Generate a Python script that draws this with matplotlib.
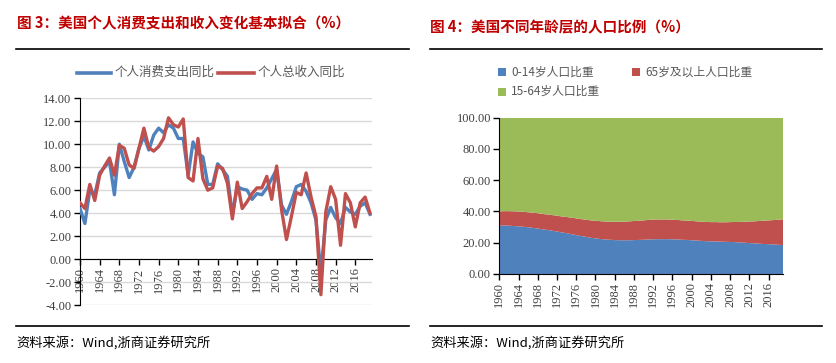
import matplotlib
matplotlib.use("Agg")
import matplotlib.pyplot as plt
from matplotlib.lines import Line2D
from matplotlib.patches import Rectangle

plt.rcParams['font.family'] = ['Noto Sans CJK SC', 'DejaVu Sans']

W, H = 837, 363

# ── 数据 ──────────────────────────────────────────────
years = list(range(1960, 2020))

# 个人消费支出同比 (%)
consumption = [4.4, 3.1, 6.0, 5.6, 7.5, 8.0, 8.5, 5.6, 10.0, 8.5,
               7.1, 8.0, 9.65, 10.7, 9.5, 10.8, 11.4, 11.0, 11.7, 11.4,
               10.5, 10.5, 7.3, 10.2, 9.2, 8.9, 6.5, 6.5, 8.3, 7.8,
               7.2, 3.9, 6.3, 6.1, 6.0, 5.2, 5.7, 5.6, 6.2, 7.0,
               7.8, 4.7, 3.9, 5.0, 6.3, 6.5, 5.9, 4.9, 3.4, -1.2,
               3.4, 4.5, 3.6, 3.1, 4.5, 4.1, 3.9, 4.6, 4.9, 3.9]

# 个人总收入同比 (%)
income = [4.9, 4.4, 6.5, 5.1, 7.3, 8.1, 8.8, 7.3, 9.9, 9.65,
          8.2, 7.9, 9.65, 11.4, 9.7, 9.4, 9.8, 10.5, 12.3, 11.7,
          11.5, 12.2, 7.1, 6.8, 10.5, 7.0, 6.0, 6.2, 8.1, 7.9,
          6.6, 3.5, 6.7, 4.4, 5.0, 5.7, 6.2, 6.2, 7.2, 5.2,
          8.1, 4.3, 1.7, 3.7, 5.8, 5.6, 7.5, 5.4, 3.7, -3.1,
          4.1, 6.3, 5.2, 1.2, 5.7, 4.9, 2.8, 4.9, 5.4, 4.0]

# 人口比重 (%)
age_0_14 = [31.0, 31.0, 30.9, 30.7, 30.5, 30.2, 29.9, 29.5, 29.1, 28.6,
            28.2, 27.7, 27.2, 26.6, 26.1, 25.5, 24.9, 24.3, 23.8, 23.2,
            22.8, 22.4, 22.1, 21.9, 21.7, 21.6, 21.6, 21.6, 21.7, 21.8,
            21.9, 22.1, 22.2, 22.3, 22.3, 22.3, 22.2, 22.1, 21.9, 21.8,
            21.6, 21.4, 21.2, 21.0, 20.9, 20.8, 20.7, 20.6, 20.5, 20.4,
            20.2, 20.0, 19.8, 19.6, 19.4, 19.2, 19.1, 18.9, 18.7, 18.5]

age_65_plus = [9.1, 9.2, 9.3, 9.4, 9.5, 9.6, 9.6, 9.7, 9.8, 9.8,
               9.9, 10.0, 10.1, 10.2, 10.4, 10.5, 10.7, 10.8, 11.0, 11.1,
               11.3, 11.4, 11.5, 11.6, 11.7, 11.8, 11.9, 12.1, 12.2, 12.3,
               12.4, 12.5, 12.6, 12.6, 12.6, 12.6, 12.5, 12.5, 12.4, 12.4,
               12.4, 12.3, 12.3, 12.3, 12.3, 12.4, 12.4, 12.5, 12.7, 12.9,
               13.1, 13.4, 13.8, 14.1, 14.5, 14.9, 15.2, 15.6, 16.0, 16.5]

age_15_64 = [59.9, 59.8, 59.8, 59.9, 60.0, 60.2, 60.5, 60.8, 61.1, 61.6,
             61.9, 62.3, 62.7, 63.2, 63.5, 64.0, 64.4, 64.9, 65.2, 65.7,
             65.9, 66.2, 66.4, 66.5, 66.6, 66.6, 66.5, 66.3, 66.1, 65.9,
             65.7, 65.4, 65.2, 65.1, 65.1, 65.1, 65.3, 65.4, 65.7, 65.8,
             66.0, 66.3, 66.5, 66.7, 66.8, 66.8, 66.9, 66.9, 66.8, 66.7,
             66.7, 66.6, 66.4, 66.3, 66.1, 65.9, 65.7, 65.5, 65.3, 65.0]

year_ticks = list(range(1960, 2020, 4))

BLUE = '#4F81BD'
RED = '#C0504D'
GREEN = '#9BBB59'
TITLE_RED = '#C00000'
TXT = '#404040'
SERIF = 'Liberation Serif'


def px(x, y):
    return x / W, 1 - y / H


def fig_rect(l, t, r, b):
    return [l / W, 1 - b / H, (r - l) / W, (b - t) / H]


def hline(fig, x0, x1, y, lw=1.2, color='black'):
    fig.add_artist(Line2D([x0 / W, x1 / W], [1 - y / H, 1 - y / H],
                          transform=fig.transFigure, color=color, lw=lw))


fig = plt.figure(figsize=(W / 100, H / 100), dpi=100)
fig.patch.set_facecolor('white')

# ── 标题 / 分割线 / 来源 ──────────────────────────────
fig.text(*px(17, 23), '图 3：美国个人消费支出和收入变化基本拟合（%）',
         color=TITLE_RED, fontsize=10.5, fontweight='bold', va='center', ha='left')
fig.text(*px(430, 27), '图 4：美国不同年龄层的人口比例（%）',
         color=TITLE_RED, fontsize=10.5, fontweight='bold', va='center', ha='left')

hline(fig, 16, 409, 49)
hline(fig, 430, 822, 49)
hline(fig, 16, 409, 326)
hline(fig, 430, 822, 326)

fig.text(*px(16, 343), '资料来源：Wind,浙商证券研究所', fontsize=9.5,
         color='black', va='center', ha='left')
fig.text(*px(430, 343), '资料来源：Wind,浙商证券研究所', fontsize=9.5,
         color='black', va='center', ha='left')

# ── 图3：折线 ──────────────────────────────────────────
ax1 = fig.add_axes(fig_rect(80, 98.3, 372, 305))
# 先移动坐标轴，否则会重置刻度标签
for s in ('top', 'right'):
    ax1.spines[s].set_visible(False)
ax1.spines['bottom'].set_position(('data', 0))
ax1.spines['left'].set_color('black')
ax1.spines['bottom'].set_color('black')

ax1.plot(years, consumption, color=BLUE, lw=2.4, solid_joinstyle='round', zorder=3)
ax1.plot(years, income, color=RED, lw=2.4, solid_joinstyle='round', zorder=4)
ax1.set_xlim(1960, 2019.4)
ax1.set_ylim(-4, 14)
ax1.set_yticks(range(-4, 15, 2))
ax1.set_yticklabels([f'{v:.2f}' for v in range(-4, 15, 2)])
ax1.set_xticks(year_ticks)
ax1.set_xticklabels([str(y) for y in year_ticks], rotation=90)
ax1.yaxis.grid(True, color='#D9D9D9', lw=1)
ax1.set_axisbelow(True)
ax1.tick_params(axis='both', direction='out', length=4, width=1, color='black',
                labelsize=9, labelcolor=TXT, pad=2)
for lab in ax1.get_xticklabels() + ax1.get_yticklabels():
    lab.set_fontfamily(SERIF)

# 图例
fig.add_artist(Line2D([77 / W, 111 / W], [1 - 72.5 / H] * 2, transform=fig.transFigure,
                      color=BLUE, lw=2.6))
fig.text(*px(115, 72.5), '个人消费支出同比', fontsize=9, color='#595959', va='center')
fig.add_artist(Line2D([218 / W, 254 / W], [1 - 72.5 / H] * 2, transform=fig.transFigure,
                      color=RED, lw=2.6))
fig.text(*px(258, 72.5), '个人总收入同比', fontsize=9, color='#595959', va='center')

# ── 图4：堆积面积 ──────────────────────────────────────
ax2 = fig.add_axes(fig_rect(499.3, 117.7, 783, 274))
ax2.stackplot(years, age_0_14, age_65_plus, age_15_64,
              colors=[BLUE, RED, GREEN], lw=0)
ax2.set_xlim(1960, 2019)
ax2.set_ylim(0, 100)
ax2.set_yticks(range(0, 101, 20))
ax2.set_yticklabels([f'{v:.2f}' for v in range(0, 101, 20)])
ax2.set_xticks(year_ticks)
ax2.set_xticklabels([str(y) for y in year_ticks], rotation=90)
for s in ('top', 'right'):
    ax2.spines[s].set_visible(False)
ax2.tick_params(axis='both', direction='out', length=4, width=1, color='black',
                labelsize=9, labelcolor=TXT, pad=2)
for lab in ax2.get_xticklabels() + ax2.get_yticklabels():
    lab.set_fontfamily(SERIF)

# 图例
for (x, y, c, t) in [(498, 72, BLUE, '0-14岁人口比重'),
                     (632, 72, RED, '65岁及以上人口比重'),
                     (498, 91.5, GREEN, '15-64岁人口比重')]:
    fig.add_artist(Rectangle((x / W, 1 - (y + 4) / H), 8 / W, 8 / H,
                             transform=fig.transFigure, facecolor=c, edgecolor='none'))
    fig.text(*px(x + 13, y), t, fontsize=8.5, color='#595959', va='center')

fig.savefig('out.png', dpi=100, facecolor='white')
